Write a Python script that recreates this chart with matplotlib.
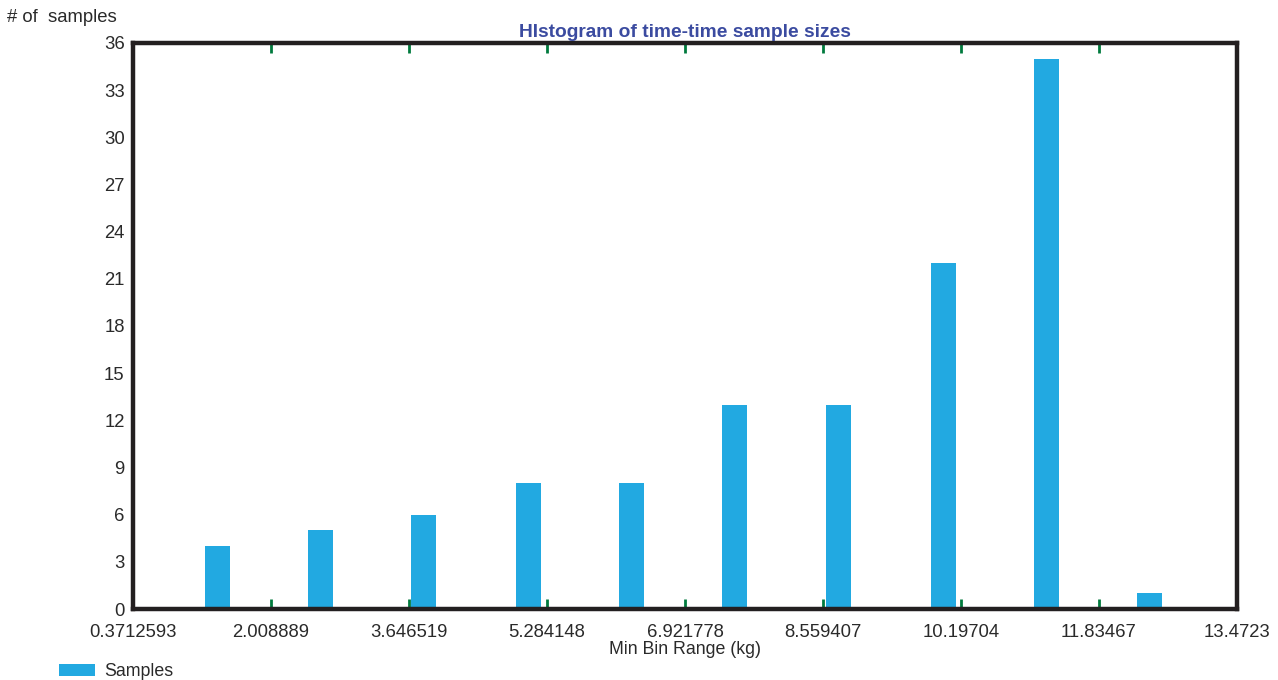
import matplotlib.pyplot as plt

plt.rcParams['font.family'] = ['Liberation Sans', 'DejaVu Sans']

# bar centres (kg) and counts
bin_centers = [1.374, 2.596, 3.819, 5.065, 6.287, 7.509, 8.743, 9.989, 11.211, 12.434]
counts = [4, 5, 6, 8, 8, 13, 13, 22, 35, 1]

x_ticks = [0.3712593, 2.008889, 3.646519, 5.284148, 6.921778,
           8.559407, 10.19704, 11.83467, 13.4723]
x_tick_labels = ["0.3712593", "2.008889", "3.646519", "5.284148", "6.921778",
                 "8.559407", "10.19704", "11.83467", "13.4723"]
y_ticks = list(range(0, 37, 3))

bar_color = "#22a9e1"
frame_color = "#231f20"
tick_color = "#007a3d"
text_color = "#2a2a2a"

fig = plt.figure(figsize=(12.78, 6.8), dpi=100)
ax = fig.add_axes([0.1041, 0.1044, 0.8638, 0.8324])

bars = ax.bar(bin_centers, counts, width=0.297, color=bar_color,
              label="Samples", zorder=1)

ax.set_xlim(x_ticks[0], x_ticks[-1])
ax.set_ylim(0, 36)

ax.set_xticks(x_ticks)
ax.set_xticklabels(x_tick_labels)
ax.set_yticks(y_ticks)

ax.tick_params(axis='x', direction='in', length=7, width=2, color=tick_color,
               top=True, bottom=True, labelsize=13.3, pad=11, labelcolor=text_color)
ax.tick_params(axis='y', length=0, labelsize=13.3, pad=6, labelcolor=text_color)

for s in ax.spines.values():
    s.set_color(frame_color)
    s.set_linewidth(3.2)
    s.set_zorder(3)

ax.set_title("HIstogram of time-time sample sizes", fontsize=13.8,
             fontweight='bold', color="#3b4ba0", pad=4)
ax.set_xlabel("Min Bin Range (kg)", fontsize=12.8, labelpad=0, color=text_color)
fig.text(0.0055, 1 - 18 / 680, "# of  samples", fontsize=13.3, va='center',
         ha='left', color=text_color)

fig.legend(handles=[bars], loc='lower left', bbox_to_anchor=(0.034, -0.024),
           frameon=False, fontsize=12.8, handlelength=2.0, handleheight=0.6,
           handletextpad=0.5, labelcolor=text_color)

fig.savefig("out.png", dpi=100)
